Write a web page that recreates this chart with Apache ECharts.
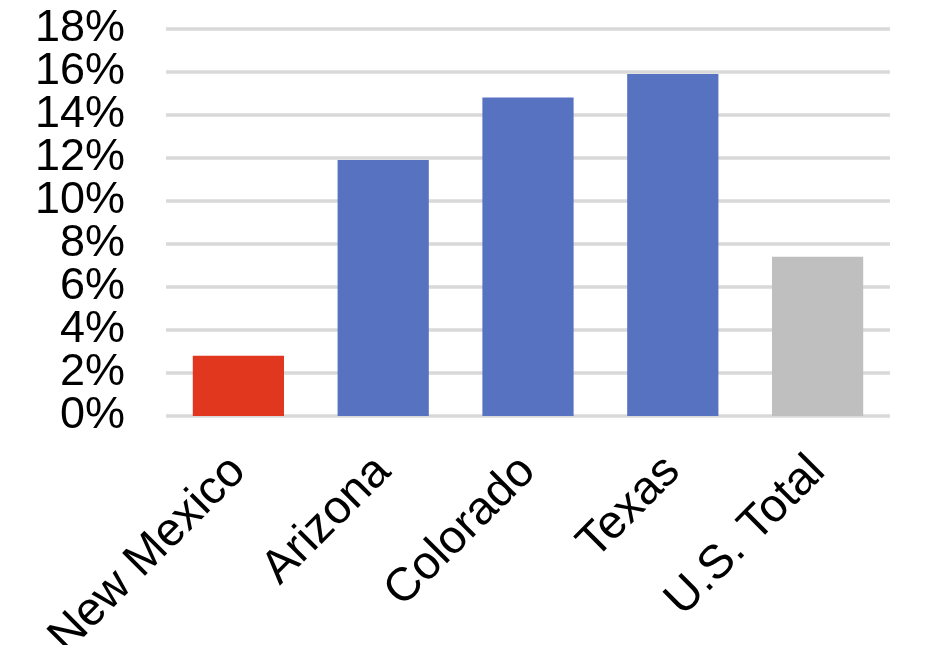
<!DOCTYPE html>
<html>
<head>
<meta charset="utf-8">
<script src="https://cdn.jsdelivr.net/npm/echarts@6/dist/echarts.min.js"></script>
<style>
html,body{margin:0;padding:0;background:#fff;}
#chart{width:950px;height:645px;}
</style>
</head>
<body>
<div id="chart"></div>
<script>
var categories = ["New Mexico", "Arizona", "Colorado", "Texas", "U.S. Total"];
var values = [2.8, 11.9, 14.8, 15.9, 7.4];
var barColors = ["#E0371E", "#5672C0", "#5672C0", "#5672C0", "#BFBFBF"];
var yTicks = [0, 2, 4, 6, 8, 10, 12, 14, 16, 18];
var yTickLabels = ["0%", "2%", "4%", "6%", "8%", "10%", "12%", "14%", "16%", "18%"];

var chart = echarts.init(document.getElementById('chart'), null, {renderer: 'canvas'});
var fontFam = '"Liberation Sans", Arial, sans-serif';
chart.setOption({
  animation: false,
  backgroundColor: '#ffffff',
  grid: {left: 166, right: 60, top: 28.7, bottom: 229, containLabel: false, outerBoundsMode: 'none'},
  xAxis: {
    type: 'category',
    data: categories,
    axisLine: {show: false},
    axisTick: {show: false},
    axisLabel: {
      rotate: 45,
      margin: 48,
      interval: 0,
      color: '#000',
      fontSize: 47,
      fontFamily: fontFam
    }
  },
  yAxis: [{
    type: 'value',
    min: yTicks[0],
    max: yTicks[yTicks.length - 1],
    interval: 2,
    axisLine: {show: false},
    axisTick: {show: false},
    axisLabel: {show: false},
    splitLine: {lineStyle: {color: '#D9D9D9', width: 3.5}}
  }, {
    type: 'category',
    position: 'left',
    data: yTickLabels,
    boundaryGap: false,
    axisLine: {show: false},
    axisTick: {show: false},
    splitLine: {show: false},
    axisLabel: {
      interval: 0,
      margin: 41,
      color: '#000',
      fontSize: 45,
      fontFamily: fontFam,
      hideOverlap: false
    }
  }],
  series: [{
    type: 'bar',
    yAxisIndex: 0,
    barWidth: '63%',
    data: values.map(function (v, i) {
      return {value: v, itemStyle: {color: barColors[i]}};
    })
  }]
});
</script>
</body>
</html>
